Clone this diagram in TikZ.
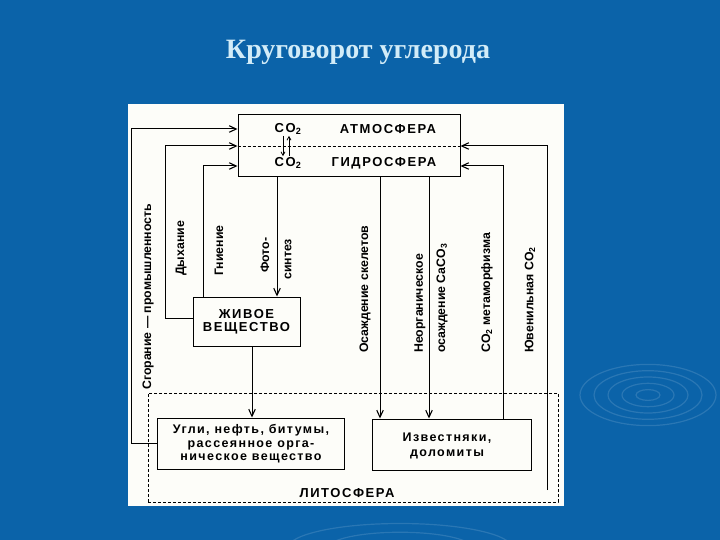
\documentclass[tikz,border=0pt]{standalone}
\usepackage{fontspec}
\setmainfont{Liberation Sans}
\newfontfamily\titlefont{Liberation Serif}
\newfontfamily\capsfont{Liberation Sans}[LetterSpace=12]
\newfontfamily\spacedfont{Liberation Sans}[LetterSpace=11]
\usetikzlibrary{arrows.meta,calc}
\definecolor{bgblue}{HTML}{0B63A9}
\definecolor{titlecol}{HTML}{D2ECF8}
\definecolor{paper}{HTML}{FDFDF9}
\tikzset{
  box/.style={draw, line width=1pt, inner sep=0pt},
  arr/.style={line width=1pt, -{Straight Barb[length=7pt,width=6.5pt,line width=1.1pt]}},
  arrsm/.style={line width=0.8pt, -{Straight Barb[length=3.5pt,width=4pt,line width=0.8pt]}},
  lab/.style={font=\bfseries\fontsize{12.3}{13}\selectfont, rotate=90, anchor=west, inner sep=0pt},
  capstxt/.style={font=\capsfont\bfseries\fontsize{13}{14}\selectfont, inner sep=1pt},
  boxtxt/.style={font=\spacedfont\bfseries\fontsize{12.5}{13.5}\selectfont, align=center, inner sep=0pt},
  ripple/.style={draw=white, opacity=0.13, line width=1.2pt}
}
\begin{document}
\begin{tikzpicture}[x=1pt,y=-1pt]
\useasboundingbox (0,0) rectangle (720,540);
\fill[bgblue] (0,0) rectangle (720,540);
% decorative ripples
\foreach \r in {12,26,40,54,68}{\draw[ripple] (648,395) ellipse ({\r pt} and {0.45*\r pt});}
\foreach \r in {20,45,70}{\draw[ripple] (400,548) ellipse ({1.6*\r pt} and {0.35*\r pt});}
% title
\node[font=\titlefont\bfseries\fontsize{28}{30}\selectfont, text=titlecol] (title) at (358,52) {Круговорот углерода};
% paper
\fill[paper] (128,104) rectangle (564,506);
% boxes
\node[box, minimum width=222pt, minimum height=62pt] (top) at (349,146) {};
\node[box, minimum width=107pt, minimum height=49pt] (zhivoe) at (246.5,321.5) {};
\node[box, minimum width=187pt, minimum height=51pt] (ugli) at (250.5,443.5) {};
\node[box, minimum width=159pt, minimum height=51pt] (izv) at (451.5,444.5) {};
\node[draw, dash pattern=on 3pt off 2pt, line width=0.8pt, minimum width=410pt, minimum height=109pt, inner sep=0pt] (litho) at (353,447.5) {};
\draw[dash pattern=on 3pt off 2pt, line width=0.8pt] (top.west) -- (top.east);
% top box texts
\node[capstxt] (co2a) at (288,129) {CO\textsubscript{2}};
\node[capstxt] (atm) at (388,129) {АТМОСФЕРА};
\node[capstxt] (co2b) at (288,163) {CO\textsubscript{2}};
\node[capstxt] (gid) at (384,163) {ГИДРОСФЕРА};
\draw[arrsm] ([xshift=-5pt]co2a.south) -- ([xshift=-5pt]co2b.north);
\draw[arrsm] ([xshift=1pt]co2b.north) -- ([xshift=1pt]co2a.south);
% box texts
\node[capstxt, align=center, font=\capsfont\bfseries\fontsize{13}{13}\selectfont] (zt) at (zhivoe.center) {ЖИВОЕ\\ВЕЩЕСТВО};
\node[boxtxt] (ut) at (251,444) {Угли, нефть, битумы,\\рассеянное орга-\\ническое вещество};
\node[boxtxt, font=\spacedfont\bfseries\fontsize{12.5}{15}\selectfont] (it) at (447,446) {Известняки,\\доломиты};
\node[capstxt] (lt) at (347,493) {ЛИТОСФЕРА};
% connectors
\draw[arr] (ugli.west) -- ++(-25,0) |- ([yshift=17pt]top.west);
\draw[arr] ([yshift=3.5pt]zhivoe.west) -- ++(-27,0) |- (top.west);
\coordinate (g) at ([xshift=11pt]zhivoe.north west);
\draw[arr] (g) |- ([yshift=-20pt]top.west);
\coordinate (f) at ([xshift=-72pt]top.south);
\draw[arr] (f) -- (f |- zhivoe.north);
\coordinate (z) at ([xshift=5.5pt]zhivoe.south);
\draw[arr] (z) -- (z |- ugli.north);
\coordinate (o) at ([xshift=31pt]top.south);
\draw[arr] (o) -- (o |- izv.north);
\coordinate (n) at ([xshift=80pt]top.south);
\draw[arr] (n) -- (n |- izv.north);
\coordinate (m) at ([xshift=51.5pt]izv.north);
\draw[arr] (m) |- ([yshift=-20pt]top.east);
\coordinate (j) at (547,490);
\draw[arr] (j) |- (top.east);
% rotated labels
\node[lab] (l1) at (148,390) {Сгорание — промышленность};
\node[lab] (l2) at (181,276) {Дыхание};
\node[lab] (l3) at (219,276) {Гниение};
\node[lab] (l4a) at (265,273) {Фото-};
\node[lab] (l4b) at (288,280) {синтез};
\node[lab] (l5) at (365,353) {Осаждение скелетов};
\node[lab] (l6a) at (420,353) {Неорганическое};
\node[lab] (l6b) at (442,353) {осаждение CaCO\textsubscript{3}};
\node[lab] (l7) at (487,353) {CO\textsubscript{2} метаморфизма};
\node[lab] (l8) at (530,353) {Ювенильная CO\textsubscript{2}};
\end{tikzpicture}
\end{document}
